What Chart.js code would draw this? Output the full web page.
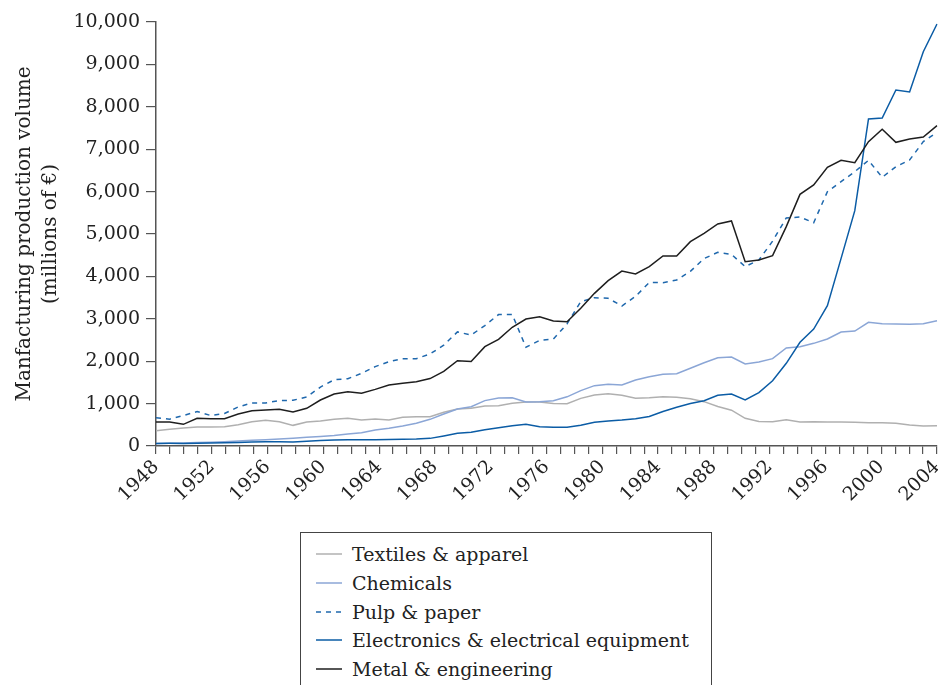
<!DOCTYPE html>
<html>
<head>
<meta charset="utf-8">
<script src="https://cdn.jsdelivr.net/npm/chart.js@4/dist/chart.umd.min.js"></script>
<style>
  html, body { margin: 0; padding: 0; background: #fff; }
  #wrap { position: relative; width: 938px; height: 685px; overflow: hidden; }
  #chart { position: absolute; left: 0; top: 0; }
  #legend {
    position: absolute; left: 300px; top: 532px; width: 412px; height: 180px;
    border: 1px solid #444; box-sizing: border-box;
    font-family: "DejaVu Serif", serif; font-size: 19px; color: #222;
    padding-top: 7px;
  }
  .item { display: flex; align-items: center; height: 28.7px; white-space: nowrap; }
  .item svg { margin-left: 15px; margin-right: 10px; }
</style>
</head>
<body>
<div id="wrap">
  <canvas id="chart" width="938" height="530"></canvas>
  <div id="legend"></div>
</div>
<script>
// data points (58 of them, spread over the 1948-2004 axis)
const periods = [1947, 1948, 1949, 1950, 1951, 1952, 1953, 1954, 1955, 1956,
  1957, 1958, 1959, 1960, 1961, 1962, 1963, 1964, 1965, 1966, 1967, 1968, 1969,
  1970, 1971, 1972, 1973, 1974, 1975, 1976, 1977, 1978, 1979, 1980, 1981, 1982,
  1983, 1984, 1985, 1986, 1987, 1988, 1989, 1990, 1991, 1992, 1993, 1994, 1995,
  1996, 1997, 1998, 1999, 2000, 2001, 2002, 2003, 2004];

// axis ticks
const axisYears = [1948, 1949, 1950, 1951, 1952, 1953, 1954, 1955, 1956, 1957,
  1958, 1959, 1960, 1961, 1962, 1963, 1964, 1965, 1966, 1967, 1968, 1969, 1970,
  1971, 1972, 1973, 1974, 1975, 1976, 1977, 1978, 1979, 1980, 1981, 1982, 1983,
  1984, 1985, 1986, 1987, 1988, 1989, 1990, 1991, 1992, 1993, 1994, 1995, 1996,
  1997, 1998, 1999, 2000, 2001, 2002, 2003, 2004];
const labelYears = [1948, 1952, 1956, 1960, 1964, 1968, 1972, 1976, 1980, 1984,
  1988, 1992, 1996, 2000, 2004];

const textiles = [360, 393, 424, 448, 448, 456, 503, 574, 605, 574,
  487, 566, 590, 629, 652, 613, 637, 613, 676, 692,
  692, 794, 873, 888, 943, 951, 1006, 1040, 1040, 1000,
  995, 1124, 1203, 1234, 1195, 1124, 1140, 1164, 1148, 1116,
  1046, 930, 845, 653, 578, 574, 621, 566, 574, 566,
  566, 562, 550, 550, 535, 495, 472, 475];

const chemicals = [60, 65, 70, 80, 90, 100, 115, 135, 150, 165,
  185, 205, 225, 250, 283, 314, 377, 420, 472, 535,
  629, 755, 873, 928, 1070, 1130, 1135, 1040, 1046, 1069,
  1160, 1305, 1423, 1454, 1439, 1557, 1635, 1690, 1706, 1832,
  1965, 2083, 2099, 1934, 1981, 2060, 2311, 2343, 2421, 2524,
  2689, 2712, 2917, 2885, 2877, 2870, 2885, 2956];

const pulpPaper = [664, 633, 719, 812, 719, 766, 922, 1016, 1016, 1070,
  1078, 1156, 1390, 1563, 1586, 1714, 1871, 1989, 2060, 2060,
  2170, 2380, 2690, 2618, 2840, 3100, 3100, 2330, 2490, 2520,
  2880, 3404, 3498, 3483, 3302, 3530, 3856, 3852, 3915, 4120,
  4420, 4568, 4520, 4230, 4387, 4830, 5380, 5400, 5267, 5998,
  6234, 6470, 6737, 6336, 6588, 6745, 7178, 7398];

const electronics = [60, 62, 58, 65, 70, 75, 85, 95, 100, 100,
  95, 110, 130, 140, 150, 145, 150, 155, 160, 165,
  180, 236, 299, 322, 385, 430, 480, 511, 456, 440,
  440, 487, 558, 590, 613, 645, 695, 815, 915, 1000,
  1069, 1195, 1226, 1085, 1258, 1537, 1950, 2447, 2759, 3310,
  4426, 5550, 7712, 7736, 8396, 8349, 9300, 9953];

const metal = [566, 566, 511, 652, 645, 645, 755, 833, 849, 865,
  802, 888, 1085, 1226, 1281, 1242, 1336, 1439, 1478, 1517,
  1590, 1760, 2013, 1993, 2343, 2516, 2800, 2995, 3050, 2948,
  2932, 3247, 3600, 3899, 4127, 4057, 4230, 4481, 4481, 4819,
  5016, 5236, 5307, 4347, 4387, 4489, 5173, 5935, 6156, 6572,
  6737, 6682, 7178, 7469, 7162, 7241, 7288, 7555];

const serif = "'DejaVu Serif', 'Liberation Serif', serif";
const ink = "#222";
const axisColor = "#555";
const canvasH = 530;

const line = (label, data, color, order, dash) => ({
  label, data, order,
  xAxisID: "xData",
  borderColor: color,
  backgroundColor: color,
  borderWidth: 1.5,
  borderDash: dash || [],
  pointRadius: 0,
  tension: 0,
  fill: false,
});

const datasets = [
  line("Textiles & apparel", textiles, "#b0b0b0", 4),
  line("Chemicals", chemicals, "#8ba6d6", 3),
  line("Pulp & paper", pulpPaper, "#1f68ad", 2, [5, 5]),
  line("Electronics & electrical equipment", electronics, "#0b5ca5", 1),
  line("Metal & engineering", metal, "#1e1e1e", 0),
];

const chart = new Chart(document.getElementById("chart"), {
  type: "line",
  data: { labels: periods, datasets },
  options: {
    responsive: false,
    animation: false,
    layout: { padding: { top: 22, right: 1, left: 0, bottom: 0 } },
    plugins: { legend: { display: false }, tooltip: { enabled: false } },
    scales: {
      xData: {
        type: "category",
        labels: periods,
        display: false,
        offset: false,
      },
      x: {
        type: "category",
        labels: axisYears,
        offset: false,
        border: { display: true, color: axisColor, width: 1.5 },
        grid: { drawOnChartArea: false, drawTicks: true, tickLength: 8, color: axisColor, lineWidth: 1.2 },
        ticks: {
          autoSkip: false,
          maxRotation: 45,
          minRotation: 45,
          padding: 2,
          color: ink,
          font: { family: serif, size: 19 },
          callback: function (value) {
            const yr = this.getLabelForValue(value);
            return labelYears.includes(yr) ? String(yr) : "";
          },
        },
        afterFit: (scale) => {
          scale.height = canvasH - 446;
          scale.paddingLeft = 0;
          scale.paddingRight = 0;
        },
      },
      y: {
        min: 0,
        max: 10000,
        border: { display: true, color: axisColor, width: 1.5 },
        grid: { drawOnChartArea: false, drawTicks: true, tickLength: 10, color: axisColor, lineWidth: 1.2 },
        ticks: {
          stepSize: 1000,
          padding: 6,
          color: ink,
          font: { family: serif, size: 19 },
          callback: (v) => v.toLocaleString("en-US"),
        },
        title: {
          display: true,
          text: ["Manfacturing production volume", "(millions of €)"],
          color: ink,
          font: { family: serif, size: 20, lineHeight: 1.3 },
          padding: { top: 12, bottom: 0 },
        },
        afterFit: (scale) => {
          scale.width = 156;
        },
      },
    },
  },
});

// legend box, built from the datasets
const legend = document.getElementById("legend");
chart.data.datasets.forEach((ds) => {
  const item = document.createElement("div");
  item.className = "item";
  const dash = ds.borderDash.length ? `stroke-dasharray="${ds.borderDash.join(" ")}"` : "";
  item.innerHTML = `<svg width="26" height="10"><line x1="0" y1="5" x2="26" y2="5" stroke="${ds.borderColor}" stroke-width="1.5" ${dash}/></svg><span>${ds.label.replace(/&/g, "&amp;")}</span>`;
  legend.appendChild(item);
});
</script>
</body>
</html>
